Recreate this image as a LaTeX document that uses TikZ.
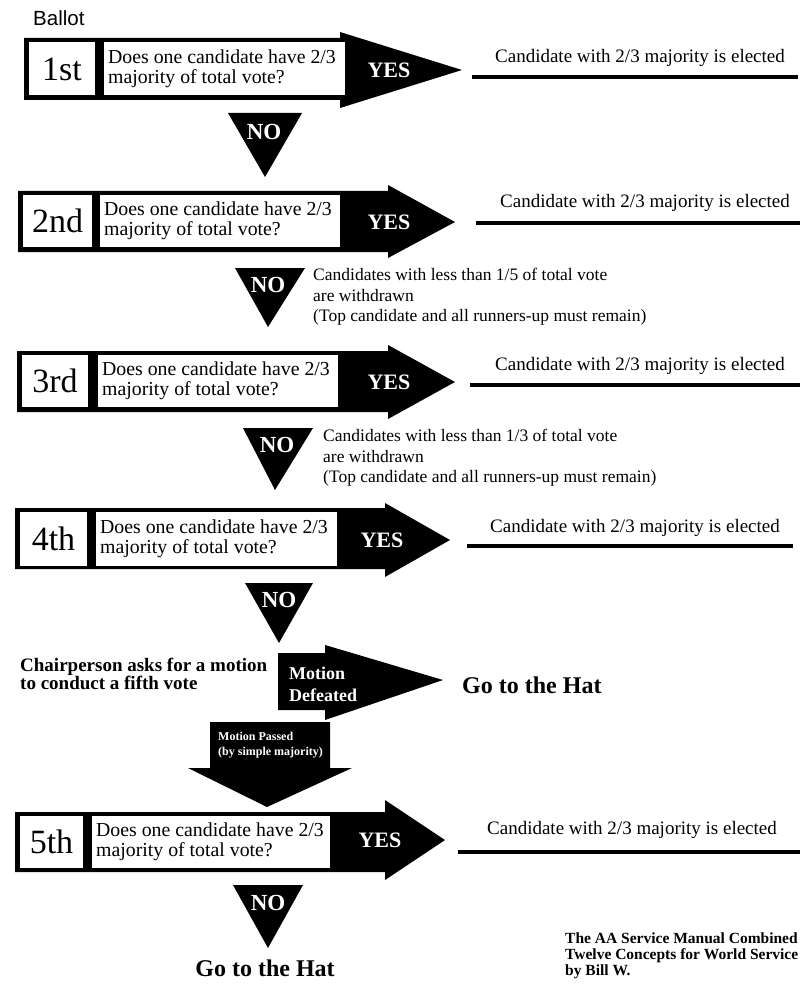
\documentclass[tikz,border=0pt]{standalone}
\usepackage{fontspec}
\setmainfont{Liberation Serif}
\newfontfamily\ballotfont{Liberation Sans}
\begin{document}
\begin{tikzpicture}[x=1pt,y=-1pt,
  ord/.style={font=\fontsize{34}{34}\selectfont,inner sep=0pt},
  ques/.style={font=\fontsize{19.8}{20}\selectfont,align=left,inner sep=0pt,anchor=west},
  yes/.style={font=\bfseries\fontsize{22}{22}\selectfont,text=white,inner sep=0pt},
  noel/.style={font=\bfseries\fontsize{23}{23}\selectfont,text=white,inner sep=0pt},
  elect/.style={font=\fontsize{19}{19}\selectfont,inner sep=0pt},
  eline/.style={line width=3.5pt},
  note/.style={font=\fontsize{17.5}{20.5}\selectfont,align=left,inner sep=0pt,anchor=west},
  hat/.style={font=\bfseries\fontsize{24}{24}\selectfont,inner sep=0pt},
  wbox/.style={fill=white},
]
\useasboundingbox (0,0) rectangle (801,987);
\node[font=\ballotfont\fontsize{20.5}{20}\selectfont,anchor=west,inner sep=0pt] (ballot) at (33,18) {Ballot};

% ---- Row 1
\fill (24,38) -- (340,38) -- (340,32) -- (462,70) -- (340,108) -- (340,100) -- (24,100) -- cycle;
\fill[wbox] (29,42) rectangle (95,95);
\fill[wbox] (104,42) rectangle (345,95);
\node[ord] (o1) at (62,69) {1st};
\node[ques] (q1) at (108,69) {Does one candidate have 2/3\\majority of total vote?};
\node[yes] (y1) at (389,70) {YES};
\node[elect] (e1) at (640,58) {Candidate with 2/3 majority is elected};
\draw[eline] (472,77) -- (798,77);
\fill (228,113) -- (302,113) -- (265,177) -- cycle;
\node[noel] (n1) at (264,132) {NO};

% ---- Row 2
\fill (18,191) -- (388,191) -- (388,185) -- (455,222) -- (388,258) -- (388,252) -- (18,252) -- cycle;
\fill[wbox] (23,195) rectangle (92,247);
\fill[wbox] (100,195) rectangle (340,247);
\node[ord] (o2) at (57.5,221) {2nd};
\node[ques] (q2) at (104,221) {Does one candidate have 2/3\\majority of total vote?};
\node[yes] (y2) at (389,222) {YES};
\node[elect] (e2) at (645,203) {Candidate with 2/3 majority is elected};
\draw[eline] (476,223) -- (800,223);
\fill (235,268) -- (305,268) -- (268,327) -- cycle;
\node[noel] (n2) at (268,285) {NO};
\node[note] (w2) at (313,297) {Candidates with less than 1/5 of total vote\\are withdrawn\\(Top candidate and all runners-up must remain)};

% ---- Row 3
\fill (17,351) -- (388,351) -- (388,345) -- (455,382) -- (388,419) -- (388,412) -- (17,412) -- cycle;
\fill[wbox] (22,355) rectangle (88,407);
\fill[wbox] (98,355) rectangle (338,407);
\node[ord] (o3) at (55,381) {3rd};
\node[ques] (q3) at (102,381) {Does one candidate have 2/3\\majority of total vote?};
\node[yes] (y3) at (389,382) {YES};
\node[elect] (e3) at (640,366) {Candidate with 2/3 majority is elected};
\draw[eline] (470,385) -- (800,385);
\fill (243,428) -- (313,428) -- (275,490) -- cycle;
\node[noel] (n3) at (277,445) {NO};
\node[note] (w3) at (323,458) {Candidates with less than 1/3 of total vote\\are withdrawn\\(Top candidate and all runners-up must remain)};

% ---- Row 4
\fill (15,508) -- (385,508) -- (385,503) -- (450,540) -- (385,577) -- (385,569) -- (15,569) -- cycle;
\fill[wbox] (20,512) rectangle (87,566);
\fill[wbox] (96,512) rectangle (337,566);
\node[ord] (o4) at (53.5,539) {4th};
\node[ques] (q4) at (100,539) {Does one candidate have 2/3\\majority of total vote?};
\node[yes] (y4) at (382,540) {YES};
\node[elect] (e4) at (635,528) {Candidate with 2/3 majority is elected};
\draw[eline] (467,546) -- (793,546);
\fill (245,583) -- (313,583) -- (279,643) -- cycle;
\node[noel] (n4) at (279,600) {NO};

% ---- Motion
\node[font=\bfseries\fontsize{19}{18}\selectfont,align=left,anchor=west,inner sep=0pt] (chair) at (20,674) {Chairperson asks for a motion\\to conduct a fifth vote};
\fill (278,653) -- (325,653) -- (325,645) -- (443,680) -- (325,720) -- (325,710) -- (278,710) -- cycle;
\node[font=\bfseries\fontsize{18}{22}\selectfont,text=white,align=left,anchor=west,inner sep=0pt] (defeat) at (289,684) {Motion\\Defeated};
\node[hat,anchor=west] (hat1) at (462,685) {Go to the Hat};
\fill (210,722) -- (330,722) -- (330,768) -- (352,768) -- (267,807) -- (188,768) -- (210,768) -- cycle;
\node[font=\bfseries\fontsize{12}{15}\selectfont,text=white,align=left,anchor=west,inner sep=0pt] (passed) at (218,745) {Motion Passed\\(by simple majority)};

% ---- Row 5
\fill (15,812) -- (385,812) -- (385,800) -- (445,840) -- (385,880) -- (385,872) -- (15,872) -- cycle;
\fill[wbox] (20,816) rectangle (83,868);
\fill[wbox] (92,816) rectangle (330,868);
\node[ord] (o5) at (51.5,842) {5th};
\node[ques] (q5) at (96,842) {Does one candidate have 2/3\\majority of total vote?};
\node[yes] (y5) at (380,840) {YES};
\node[elect] (e5) at (632,830) {Candidate with 2/3 majority is elected};
\draw[eline] (458,852) -- (800,852);
\fill (233,885) -- (303,885) -- (268,948) -- cycle;
\node[noel] (n5) at (268,903) {NO};
\node[hat] (hat2) at (265,968) {Go to the Hat};
\node[font=\bfseries\fontsize{15.5}{16}\selectfont,align=left,anchor=west,inner sep=0pt] (credit) at (565,956) {The AA Service Manual Combined\\Twelve Concepts for World Service\\by Bill W.};
\end{tikzpicture}
\end{document}
